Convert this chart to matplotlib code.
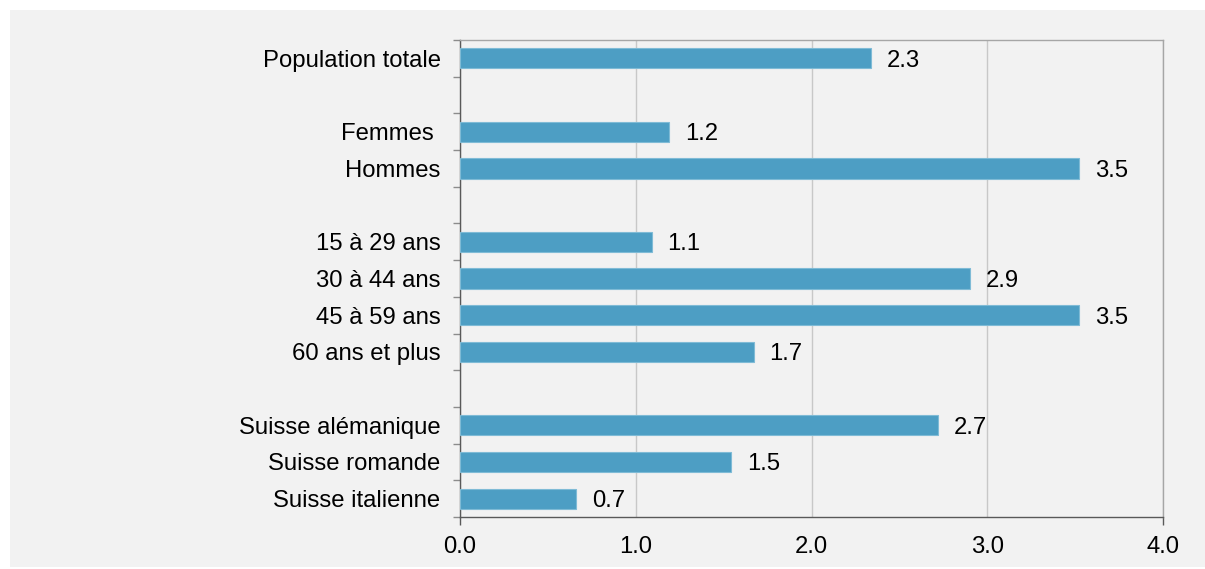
import numpy as np
import matplotlib.pyplot as plt
from matplotlib.patches import Rectangle

plt.rcParams['font.family'] = ['Liberation Sans', 'DejaVu Sans']

#------------------------------------------------------------------
#   data (empty strings = spacer rows between groups)
#------------------------------------------------------------------
labels = ['Population totale', '',
          'Femmes ', 'Hommes', '',
          '15 à 29 ans', '30 à 44 ans', '45 à 59 ans', '60 ans et plus', '',
          'Suisse alémanique', 'Suisse romande', 'Suisse italienne']
values = [2.34, None,
          1.19, 3.52, None,
          1.09, 2.90, 3.52, 1.67, None,
          2.72, 1.54, 0.66]
xticks = [0.0, 1.0, 2.0, 3.0, 4.0]

bar_col = '#4d9ec4'
bg_col  = '#f2f2f2'
fs      = 17.2

fig = plt.figure(figsize=(12.05, 5.69), dpi=100)
fig.patch.set_facecolor('white')
fig.add_artist(Rectangle((10/1205, 0.004), 1.0, 1 - 10/569 - 0.004,
                         transform=fig.transFigure, facecolor=bg_col,
                         edgecolor='none', zorder=-5))

ax = fig.add_axes([460/1205, 1 - 517/569, 703/1205, 477/569])
ax.set_facecolor(bg_col)

pos = [i for i, v in enumerate(values) if v is not None]
vals = [v for v in values if v is not None]
ax.barh(pos, vals, height=0.55, color=bar_col, edgecolor='#7fbbd6',
        linewidth=0.8, zorder=3)

for p, v in zip(pos, vals):
    ax.annotate('%.1f' % v, (v, p), xytext=(11.5, 0), textcoords='offset points',
                va='center_baseline', ha='left', fontsize=fs, color='black')

ax.set_xlim(0, 4)
ax.set_ylim(len(labels) - 0.5, -0.5)

ax.set_xticks(xticks)
ax.set_xticklabels(['%.1f' % t for t in xticks], fontsize=fs)
ax.tick_params(axis='x', length=6, width=1, color='#595959', pad=8)
for i, t in enumerate(ax.xaxis.get_major_ticks()):
    if 0 < i < len(xticks) - 1:
        t.tick1line.set_visible(False)
ax.grid(axis='x', color='#c8c8c8', linewidth=1, zorder=0)

# category boundaries as major ticks, labels on minor ticks
ax.set_yticks(np.arange(-0.5, len(labels), 1.0))
ax.set_yticklabels([])
ax.tick_params(axis='y', which='major', length=5, width=1, color='#8c8c8c')
ax.set_yticks(range(len(labels)), minor=True)
ax.set_yticklabels(labels, minor=True, fontsize=fs)
ax.tick_params(axis='y', which='minor', length=0, pad=14)

for s in ['top', 'right']:
    ax.spines[s].set_color('#a6a6a6')
for s in ['left', 'bottom']:
    ax.spines[s].set_color('#595959')
for s in ax.spines.values():
    s.set_linewidth(1)

plt.savefig('out.png', dpi=100, facecolor=fig.get_facecolor())
